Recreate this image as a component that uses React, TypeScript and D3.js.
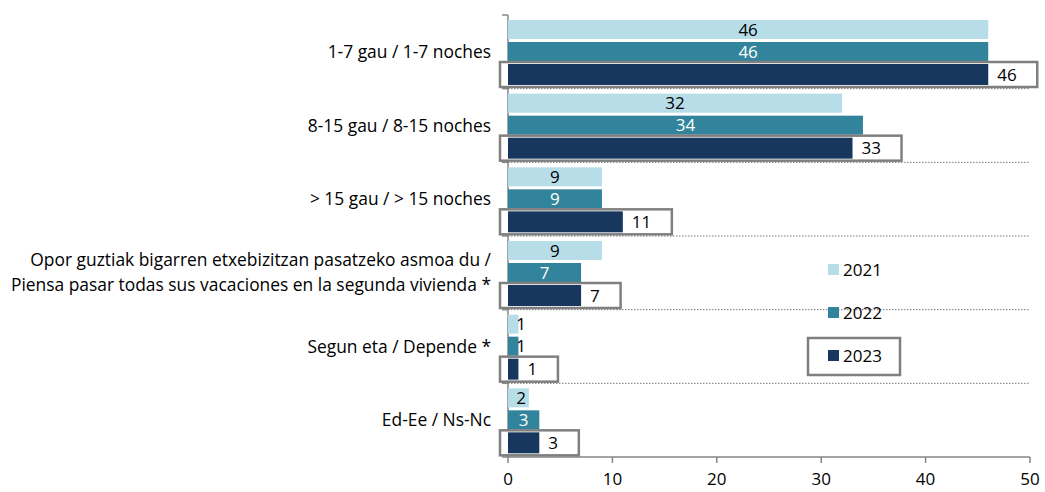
import React from "react";
import * as d3 from "d3";

const categories = [
  ["1-7 gau / 1-7 noches"],
  ["8-15 gau / 8-15 noches"],
  ["> 15 gau / > 15 noches"],
  ["Opor guztiak bigarren etxebizitzan pasatzeko asmoa du /", "Piensa pasar todas sus vacaciones en la segunda vivienda *"],
  ["Segun eta / Depende *"],
  ["Ed-Ee / Ns-Nc"],
];
const years = ["2021", "2022", "2023"];
const values2021 = [46, 32, 9, 9, 1, 2];
const values2022 = [46, 34, 9, 7, 1, 3];
const values2023 = [46, 33, 11, 7, 1, 3];
const xTicks = [0, 10, 20, 30, 40, 50];

const colors = ["#b7dde8", "#31849b", "#17375e"];
const labelColors = ["#000", "#fff"];
const FONT = "'Open Sans', Lato, sans-serif";

export default function App() {
  const W = 1045, H = 492;
  const left = 508, right = 1030, top = 15, bottom = 457;
  const x = d3.scaleLinear().domain([0, 50]).range([left, right]);
  const y = d3.scaleBand<number>().domain(d3.range(categories.length)).range([top, bottom]);
  const bw = y.bandwidth();
  const series = [values2021, values2022, values2023];
  const barH = 19;
  const barOff = [5, 27, 49];
  const axisColor = "#868686";
  const fs = 17;

  return (
    <svg width={W} height={H} style={{ position: "absolute", left: 0, top: 0, fontFamily: FONT }}>
      <rect width={W} height={H} fill="#fff" />
      {d3.range(1, categories.length).map((i) => (
        <line key={"s" + i} x1={left} x2={right} y1={top + i * bw} y2={top + i * bw}
          stroke="#777" strokeWidth={1} strokeDasharray="1.5,1.5" />
      ))}
      <line x1={left} x2={left} y1={top} y2={bottom} stroke={axisColor} strokeWidth={1.5} />
      {d3.range(0, categories.length + 1).map((i) => (
        <line key={"lt" + i} x1={left - 6} x2={left} y1={top + i * bw} y2={top + i * bw} stroke={axisColor} strokeWidth={1.5} />
      ))}
      <line x1={left} x2={right} y1={bottom} y2={bottom} stroke={axisColor} strokeWidth={1.5} />
      {xTicks.map((t) => (
        <g key={"xt" + t}>
          <line x1={x(t)} x2={x(t)} y1={bottom} y2={bottom + 6} stroke={axisColor} strokeWidth={1.5} />
          <text x={x(t)} y={bottom + 28} textAnchor="middle" fontSize={fs} fill="#000">{t}</text>
        </g>
      ))}
      {categories.map((lines, i) => {
        const cy = (y(i) as number) + bw / 2;
        const lh = 25;
        return (
          <text key={"c" + i} textAnchor="end" fontSize={17.4} fill="#000">
            {lines.map((l, j) => (
              <tspan key={j} x={491} y={cy - ((lines.length - 1) * lh) / 2 + j * lh + 6}>{l}</tspan>
            ))}
          </text>
        );
      })}
      {categories.map((_, i) => {
        const y0 = y(i) as number;
        return (
          <g key={"b" + i}>
            {series.map((vals, s) => {
              const v = vals[i];
              const by = y0 + barOff[s];
              const end = x(v);
              if (s < 2) {
                const cx = Math.max((x(0) + end) / 2, x(0) + 13);
                return (
                  <g key={s}>
                    <rect x={x(0)} y={by} width={end - x(0)} height={barH} fill={colors[s]} />
                    <text x={cx} y={by + barH / 2 + 6} textAnchor="middle" fontSize={fs} fill={v >= 3 || s === 0 ? labelColors[s] : "#000"}>{v}</text>
                  </g>
                );
              }
              const txt = String(v);
              const tw = txt.length * 9.5;
              const lx = end + 9;
              const boxR = lx + tw + 21;
              const bh = barH + 2;
              return (
                <g key={s}>
                  <rect x={x(0) - 8} y={by - 2} width={boxR - (x(0) - 8)} height={bh + 4} fill="#fff" />
                  <rect x={x(0)} y={by} width={end - x(0)} height={bh} fill={colors[s]} />
                  <rect x={x(0) - 8} y={by - 2} width={boxR - (x(0) - 8)} height={bh + 4} fill="none" stroke="#7f7f7f" strokeWidth={2.5} />
                  <text x={lx} y={by + bh / 2 + 6} textAnchor="start" fontSize={fs} fill="#000">{txt}</text>
                </g>
              );
            })}
          </g>
        );
      })}
      {years.map((yr, k) => {
        const ly = 270 + k * 43;
        return (
          <g key={"lg" + yr}>
            <rect x={828} y={ly - 6} width={11} height={11} fill={colors[k]} />
            <text x={843} y={ly + 6} fontSize={fs} fill="#000">{yr}</text>
          </g>
        );
      })}
      <rect x={808} y={338} width={92} height={37} fill="none" stroke="#7f7f7f" strokeWidth={2.5} />
    </svg>
  );
}
